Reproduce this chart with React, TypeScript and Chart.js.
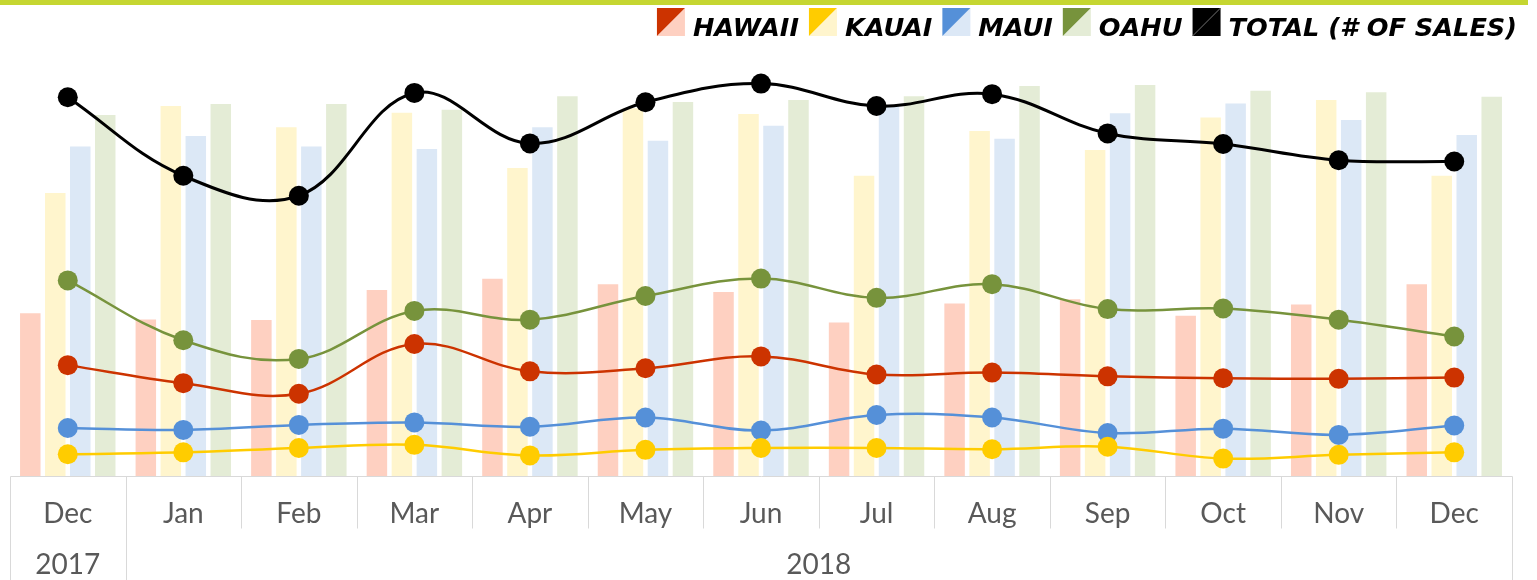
import React, { useEffect, useRef } from "react";
import { Chart, registerables } from "chart.js";

Chart.register(...registerables);

// ---- data ----
const months = ["Dec", "Jan", "Feb", "Mar", "Apr", "May", "Jun", "Jul", "Aug", "Sep", "Oct", "Nov", "Dec"];
const years = ["2017", "2018"];
const yearStart = [0, 1];
const yearEnd = [0, 12];

const islandNames = ["HAWAII", "KAUAI", "MAUI", "OAHU"];
const totalName = "TOTAL (# OF SALES)";

// median price ($K) – bars
const hawaiiPrice = [336, 323, 322, 384, 407, 396, 380, 317, 356, 365, 331, 354, 396];
const kauaiPrice = [584, 764, 720, 750, 636, 759, 747, 620, 712, 673, 740, 776, 620];
const mauiPrice = [680, 702, 680, 675, 720, 692, 723, 766, 696, 749, 769, 735, 704];
const oahuPrice = [745, 768, 768, 756, 784, 772, 776, 784, 805, 807, 795, 792, 783];

// number of sales – lines
const hawaiiSales = [178, 149, 132, 212, 168, 173, 192, 163, 166, 160, 157, 156, 158];
const kauaiSales = [35, 38, 45, 50, 33, 42, 45, 45, 43, 47, 28, 34, 38];
const mauiSales = [77, 74, 82, 86, 79, 94, 73, 98, 94, 69, 76, 66, 81];
const oahuSales = [314, 218, 188, 265, 251, 289, 317, 286, 308, 268, 269, 251, 224];
const totalSales = [608, 482, 450, 615, 534, 600, 630, 594, 613, 550, 533, 507, 505];

// ---- styles ----
const darkColors = ["#cc3300", "#ffcc00", "#5590d8", "#77933c"];
const lightColors = ["#fed0c1", "#fff5cd", "#dce8f6", "#e4ecd6"];
const totalColor = "#000000";
const axisGray = "#d9d9d9";
const labelGray = "#595959";
const topBarColor = "#c5d631";

const framePlugin = {
  id: "framePlugin",
  afterDraw(chart: any) {
    const ctx = chart.ctx;
    const xs = chart.scales.x;
    const n = months.length;
    const w = (xs.right - xs.left) / n;
    const b = (i: number) => Math.round(xs.left + i * w) + 0.5;
    const top = Math.round(xs.top) + 0.5;
    ctx.save();
    // top bar
    ctx.fillStyle = topBarColor;
    ctx.fillRect(0, 0, chart.width, 5);

    ctx.strokeStyle = axisGray;
    ctx.lineWidth = 1;
    ctx.beginPath();
    ctx.moveTo(b(0), top);
    ctx.lineTo(b(n), top);
    // month separators
    for (let i = 1; i < n; i++) {
      ctx.moveTo(b(i), top);
      ctx.lineTo(b(i), top + 52);
    }
    // group boundaries (full height)
    const groupEdges = new Set<number>();
    yearStart.forEach((s) => groupEdges.add(s));
    yearEnd.forEach((e) => groupEdges.add(e + 1));
    groupEdges.forEach((i) => {
      ctx.moveTo(b(i), top);
      ctx.lineTo(b(i), chart.height);
    });
    ctx.stroke();

    // year labels
    ctx.fillStyle = labelGray;
    ctx.font = "28px Lato";
    ctx.textAlign = "center";
    ctx.textBaseline = "alphabetic";
    years.forEach((y, k) => {
      const cx = xs.left + ((yearStart[k] + yearEnd[k] + 1) / 2) * w;
      ctx.fillText(y, cx, 574);
    });

    // legend (right aligned)
    const entries = islandNames.map((name, i) => ({ name, dark: darkColors[i], light: lightColors[i] }));
    entries.push({ name: totalName, dark: totalColor, light: totalColor });
    ctx.font = "italic bold 25.6px 'DejaVu Sans'";
    ctx.textAlign = "left";
    const box = 28;
    const gapText = 8;
    const gapItem = 10;
    const widths = entries.map((e) => ctx.measureText(e.name).width);
    let total = 0;
    widths.forEach((tw, i) => {
      total += box + gapText + tw + (i < widths.length - 1 ? gapItem : 0);
    });
    let x = 1517 - total;
    const by = 8;
    entries.forEach((e, i) => {
      ctx.fillStyle = e.light;
      ctx.beginPath();
      ctx.moveTo(x + box, by);
      ctx.lineTo(x + box, by + box);
      ctx.lineTo(x, by + box);
      ctx.closePath();
      ctx.fill();
      ctx.fillStyle = e.dark;
      ctx.beginPath();
      ctx.moveTo(x, by);
      ctx.lineTo(x + box, by);
      ctx.lineTo(x, by + box);
      ctx.closePath();
      ctx.fill();
      if (e.dark === e.light) {
        ctx.strokeStyle = "#555555";
        ctx.lineWidth = 1;
        ctx.beginPath();
        ctx.moveTo(x + box, by);
        ctx.lineTo(x, by + box);
        ctx.stroke();
      }
      ctx.fillStyle = "#000000";
      ctx.fillText(e.name, x + box + gapText, 36);
      x += box + gapText + widths[i] + gapItem;
    });
    ctx.restore();
  },
};

export default function App() {
  const ref = useRef<HTMLCanvasElement | null>(null);

  useEffect(() => {
    if (!ref.current) return;
    const barSets = [hawaiiPrice, kauaiPrice, mauiPrice, oahuPrice].map((d, i) => ({
      type: "bar" as const,
      label: islandNames[i] + " price",
      data: d,
      backgroundColor: lightColors[i],
      borderWidth: 0,
      yAxisID: "y",
      order: 2,
      categoryPercentage: 0.865,
      barPercentage: 0.82,
    }));
    const lineSets = [hawaiiSales, kauaiSales, mauiSales, oahuSales].map((d, i) => ({
      type: "line" as const,
      label: islandNames[i],
      data: d,
      borderColor: darkColors[i],
      backgroundColor: darkColors[i],
      pointBackgroundColor: darkColors[i],
      pointBorderWidth: 0,
      pointRadius: 10,
      borderWidth: 2.5,
      tension: 0.38,
      yAxisID: "y1",
      order: 1,
    }));
    const totalSet = {
      type: "line" as const,
      label: totalName,
      data: totalSales,
      borderColor: totalColor,
      backgroundColor: totalColor,
      pointBackgroundColor: totalColor,
      pointBorderWidth: 0,
      pointRadius: 10,
      borderWidth: 3,
      tension: 0.38,
      yAxisID: "y1",
      order: 0,
    };
    const chart = new Chart(ref.current, {
      type: "bar",
      data: {
        labels: months,
        datasets: [...barSets, ...lineSets, totalSet] as any,
      },
      options: {
        animation: false,
        responsive: false,
        events: [],
        layout: { padding: { top: 40, left: 8, right: 16, bottom: 0 } },
        plugins: { legend: { display: false }, tooltip: { enabled: false } },
        scales: {
          x: {
            type: "category",
            offset: true,
            grid: { display: false },
            border: { display: false },
            ticks: {
              color: labelGray,
              font: { family: "Lato", size: 28 },
              padding: 13,
              maxRotation: 0,
              autoSkip: false,
            },
            afterFit: (scale: any) => {
              scale.height = 104;
            },
          },
          y: { display: false, min: 0, max: 900 },
          y1: { display: false, min: 0, max: 700, position: "right" },
        },
      },
      plugins: [framePlugin],
    });
    return () => chart.destroy();
  }, []);

  return (
    <div style={{ position: "absolute", left: 0, top: 0, width: 1528, height: 580, background: "#fff" }}>
      <canvas ref={ref} width={1528} height={580} />
    </div>
  );
}
